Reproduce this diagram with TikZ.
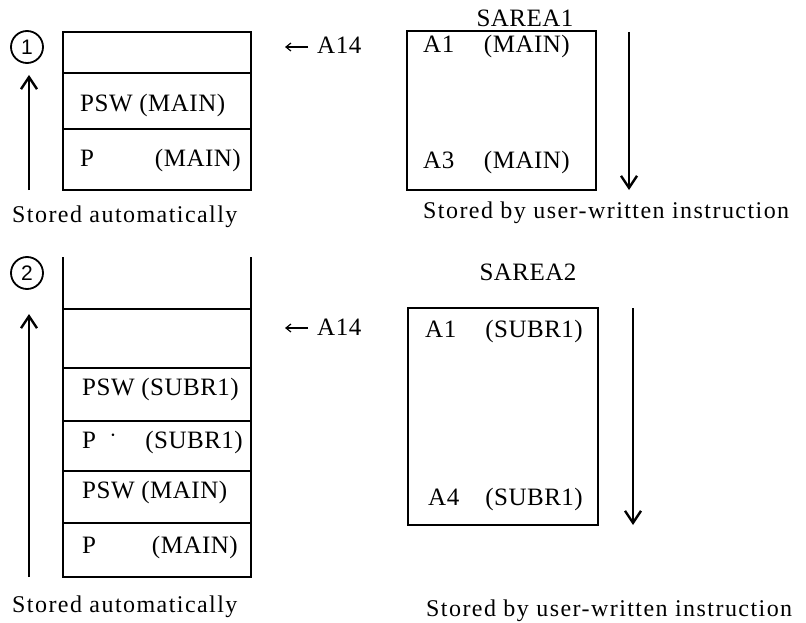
\documentclass[tikz,border=0pt]{standalone}
\usepackage{fontspec}
\setmainfont{Liberation Serif}
\newfontfamily\boxfont{Liberation Serif}[LetterSpace=2]
\newfontfamily\capfont{Liberation Serif}[LetterSpace=6]
\setsansfont{Liberation Sans}
\usetikzlibrary{arrows.meta}
\tikzset{
  lbl/.style={inner sep=0pt, font=\boxfont\fontsize{25}{28}\selectfont},
  captxt/.style={inner sep=0pt, font=\capfont\fontsize{24}{28}\selectfont},
  num/.style={draw, circle, line width=1.8pt, minimum size=32pt, inner sep=0pt, font=\sffamily\fontsize{21}{24}\selectfont},
  flow/.style={line width=2.4pt, -{Straight Barb[length=12pt,width=16pt,line width=2.4pt]}},
  ptr/.style={line width=1.2pt, -{Straight Barb[length=5pt,width=8pt,line width=1.2pt]}},
  wall/.style={line width=1.9pt}
}
\begin{document}
\begin{tikzpicture}[x=1pt,y=-1pt]
\useasboundingbox (0,0) rectangle (806,623);
% ---------- Panel 1 ----------
\node[num] (n1) at (27,47) {1};
\coordinate (u1a) at (29,190);
\coordinate (u1b) at (29,75);
\draw[flow] (u1a) -- (u1b);
\draw[wall] (63,32) rectangle (251,190);
\draw[wall] (63,73) -- (251,73);
\draw[wall] (63,129) -- (251,129);
\node[lbl, anchor=base west] (s1a) at (80,112) {PSW (MAIN)};
\node[lbl, anchor=base west] (s1b) at (80,167) {P};
\node[lbl, anchor=base east] (s1c) at (241,167) {(MAIN)};
\node[captxt, anchor=base west] (st1) at (12,222) {Stored automatically};
\coordinate (p1a) at (308,47);
\coordinate (p1b) at (285,47);
\draw[ptr] (p1a) -- (p1b);
\node[lbl, anchor=base west] (a141) at (317,54) {A14};
% SAREA1
\node[lbl, anchor=base] (sa1) at (525,27) {SAREA1};
\draw[wall] (407,31) rectangle (596,190);
\node[lbl, anchor=base west] (r1a) at (423,53) {A1};
\node[lbl, anchor=base east] (r1b) at (570,53) {(MAIN)};
\node[lbl, anchor=base west] (r1c) at (423,168) {A3};
\node[lbl, anchor=base east] (r1d) at (570,168) {(MAIN)};
\coordinate (d1a) at (629,32);
\coordinate (d1b) at (629,190);
\draw[flow] (d1a) -- (d1b);
\node[captxt, anchor=base west] (su1) at (423,218) {Stored by user-written instruction};
% ---------- Panel 2 ----------
\node[num] (n2) at (27,273) {2};
\coordinate (u2a) at (29,577);
\coordinate (u2b) at (29,314);
\draw[flow] (u2a) -- (u2b);
\draw[wall] (63,257) -- (63,577) -- (251,577) -- (251,257);
\foreach \yy in {309,368,421,471,523}
  \draw[wall] (63,\yy) -- (251,\yy);
\node[lbl, anchor=base west] (t2a) at (82,395) {PSW (SUBR1)};
\node[lbl, anchor=base west] (t2b) at (82,448) {P};
\node[lbl] (t2dot) at (113,436) {$\cdot$};
\node[lbl, anchor=base east] (t2c) at (243,448) {(SUBR1)};
\node[lbl, anchor=base west] (t2d) at (82,498) {PSW (MAIN)};
\node[lbl, anchor=base west] (t2e) at (82,553) {P};
\node[lbl, anchor=base east] (t2f) at (238,553) {(MAIN)};
\node[captxt, anchor=base west] (st2) at (12,612) {Stored automatically};
\coordinate (p2a) at (308,328);
\coordinate (p2b) at (285,328);
\draw[ptr] (p2a) -- (p2b);
\node[lbl, anchor=base west] (a142) at (317,335) {A14};
% SAREA2
\node[lbl, anchor=base] (sa2) at (528,280) {SAREA2};
\draw[wall] (408,308) rectangle (598,525);
\node[lbl, anchor=base west] (r2a) at (425,337) {A1};
\node[lbl, anchor=base east] (r2b) at (583,337) {(SUBR1)};
\node[lbl, anchor=base west] (r2c) at (428,505) {A4};
\node[lbl, anchor=base east] (r2d) at (583,505) {(SUBR1)};
\coordinate (d2a) at (633,308);
\coordinate (d2b) at (633,525);
\draw[flow] (d2a) -- (d2b);
\node[captxt, anchor=base west] (su2) at (426,616) {Stored by user-written instruction};
\end{tikzpicture}
\end{document}
